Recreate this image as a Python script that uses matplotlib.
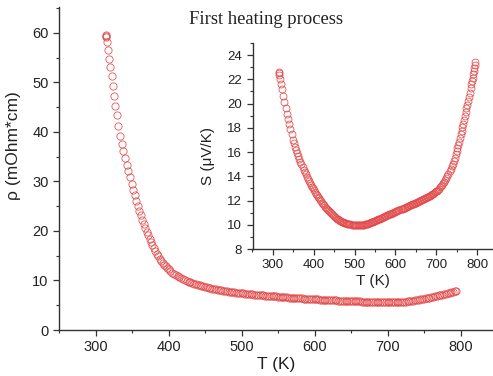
import numpy as np
import matplotlib
matplotlib.use("Agg")
import matplotlib.pyplot as plt
from matplotlib.ticker import MultipleLocator

# resistivity, first heating
T_rho = [314.0, 314.3, 314.6, 315.5, 316.7, 318.5, 320.0, 322.0, 323.5, 325.3,
         326.8, 329.0, 331.2, 333.5, 336.0, 338.0, 340.5, 342.7, 345.0, 347.3,
         350, 352, 354, 356, 358, 360, 362, 364, 366, 368,
         370, 372, 374, 376, 378, 380, 382, 384, 386, 388,
         390, 392, 394, 396, 398, 400, 402.5, 405, 407.5, 410,
         412.5, 415, 417.5, 420, 422.5, 425, 427.5, 430, 432.5, 435,
         437.5, 440, 442.5, 445, 447.5, 450, 452.5, 455, 457.5, 460,
         462.5, 465, 467.5, 470, 472.5, 475, 477.5, 480, 482.5, 485,
         487.5, 490, 492.5, 495, 497.5, 500, 502.5, 505, 507.5, 510,
         512.5, 515, 517.5, 520, 522.5, 525, 527.5, 530, 532.5, 535,
         537.5, 540, 542.5, 545, 547.5, 550, 552.5, 555, 557.5, 560,
         562.5, 565, 567.5, 570, 572.5, 575, 577.5, 580, 582.5, 585,
         587.5, 590, 592.5, 595, 597.5, 600, 602.5, 605, 607.5, 610,
         612.5, 615, 617.5, 620, 622.5, 625, 627.5, 630, 632.5, 635,
         637.5, 640, 642.5, 645, 647.5, 650, 652.5, 655, 657.5, 660,
         662.5, 665, 667.5, 670, 672.5, 675, 677.5, 680, 682.5, 685,
         687.5, 690, 692.5, 695, 697.5, 700, 702.5, 705, 707.5, 710,
         712.5, 715, 717.5, 720, 722.5, 725, 727.5, 730, 732.5, 735,
         737.5, 740, 742.5, 745, 747.5, 750, 752.5, 755, 757.5, 760,
         762.5, 765, 767.5, 770, 772.5, 775, 777.5, 780, 782.5, 785,
         787.5, 790, 792, 794]
rho = [59.6, 59.4, 59.1, 58.1, 56.6, 54.7, 53.0, 51.2, 49.3, 47.3,
       45.3, 43.3, 41.1, 39.2, 37.5, 36.1, 34.7, 33.3, 32.0, 30.8,
       29.4, 28.3, 27.2, 26.1, 25.1, 24.1, 23.2, 22.3, 21.4, 20.6,
       19.8, 19.1, 18.4, 17.7, 17.1, 16.5, 15.9, 15.4, 14.9, 14.4,
       14.0, 13.6, 13.2, 12.85, 12.55, 12.25, 11.95, 11.6, 11.35, 11.1,
       10.85, 10.62, 10.42, 10.25, 10.08, 9.92, 9.78, 9.62, 9.5, 9.37,
       9.25, 9.12, 9.0, 8.9, 8.8, 8.7, 8.6, 8.52, 8.44, 8.36,
       8.28, 8.2, 8.13, 8.06, 7.99, 7.92, 7.86, 7.8, 7.75, 7.7,
       7.65, 7.6, 7.55, 7.5, 7.46, 7.42, 7.38, 7.35, 7.31, 7.28,
       7.24, 7.2, 7.16, 7.12, 7.08, 7.05, 7.01, 6.98, 6.95, 6.92,
       6.89, 6.86, 6.83, 6.8, 6.77, 6.74, 6.71, 6.68, 6.65, 6.62,
       6.59, 6.56, 6.53, 6.5, 6.47, 6.45, 6.42, 6.4, 6.37, 6.35,
       6.32, 6.3, 6.27, 6.25, 6.22, 6.2, 6.18, 6.16, 6.14, 6.12,
       6.1, 6.08, 6.06, 6.04, 6.02, 6.0, 5.98, 5.96, 5.94, 5.93,
       5.91, 5.9, 5.88, 5.87, 5.85, 5.84, 5.82, 5.81, 5.79, 5.78,
       5.76, 5.75, 5.73, 5.72, 5.71, 5.7, 5.69, 5.68, 5.67, 5.66,
       5.65, 5.64, 5.63, 5.62, 5.61, 5.6, 5.6, 5.6, 5.6, 5.6,
       5.61, 5.62, 5.64, 5.66, 5.69, 5.72, 5.76, 5.8, 5.85, 5.9,
       5.96, 6.02, 6.09, 6.16, 6.23, 6.3, 6.38, 6.46, 6.54, 6.62,
       6.71, 6.8, 6.89, 6.98, 7.07, 7.16, 7.25, 7.34, 7.43, 7.52,
       7.62, 7.72, 7.82, 7.95]

# Seebeck coefficient (inset)
T_S = [314, 315, 316, 318, 320, 322, 325, 328, 331, 334,
       337, 340, 343, 346, 350, 352.5, 355, 357.5, 360, 362.5,
       365, 367.5, 370, 372.5, 375, 377.5, 380, 382.5, 385, 387.5,
       390, 392.5, 395, 397.5, 400, 402.5, 405, 407.5, 410, 412.5,
       415, 417.5, 420, 422.5, 425, 427.5, 430, 432.5, 435, 437.5,
       440, 442.5, 445, 447.5, 450, 452.5, 455, 457.5, 460, 462.5,
       465, 467.5, 470, 472.5, 475, 477.5, 480, 482.5, 485, 487.5,
       490, 492.5, 495, 497.5, 500, 502.5, 505, 507.5, 510, 512.5,
       515, 517.5, 520, 522.5, 525, 527.5, 530, 532.5, 535, 537.5,
       540, 542.5, 545, 547.5, 550, 552.5, 555, 557.5, 560, 562.5,
       565, 567.5, 570, 572.5, 575, 577.5, 580, 582.5, 585, 587.5,
       590, 592.5, 595, 597.5, 600, 602.5, 605, 607.5, 610, 612.5,
       615, 617.5, 620, 622.5, 625, 627.5, 630, 632.5, 635, 637.5,
       640, 642.5, 645, 647.5, 650, 652.5, 655, 657.5, 660, 662.5,
       665, 667.5, 670, 672.5, 675, 677.5, 680, 682.5, 685, 687.5,
       690, 692.5, 695, 697.5, 700, 702.5, 705, 707.5, 710, 712.5,
       715, 717.5, 720, 722.5, 725, 727.5, 730, 732.5, 735, 737.5,
       740, 742.5, 745, 747.5, 750, 752, 754, 756, 758, 760,
       762, 764, 766, 768, 770, 772, 774, 776, 778, 780,
       782, 784, 786, 787.5, 789, 790.5, 792, 793.5, 795, 796]
S = [22.6, 22.5, 22.35, 22.0, 21.6, 21.2, 20.6, 20.1, 19.6, 19.1,
     18.7, 18.3, 17.9, 17.5, 17.0, 16.72, 16.44, 16.16, 15.9, 15.65,
     15.43, 15.2, 15.0, 14.78, 14.56, 14.35, 14.15, 13.96, 13.78, 13.6,
     13.45, 13.3, 13.15, 13.02, 12.88, 12.74, 12.58, 12.43, 12.3, 12.17,
     12.05, 11.93, 11.8, 11.69, 11.59, 11.49, 11.4, 11.3, 11.21, 11.12,
     11.03, 10.95, 10.87, 10.79, 10.7, 10.63, 10.56, 10.5, 10.45, 10.4,
     10.35, 10.3, 10.25, 10.21, 10.17, 10.14, 10.12, 10.09, 10.07, 10.05,
     10.03, 10.01, 10.0, 9.99, 9.98, 9.97, 9.97, 9.97, 9.97, 9.97,
     9.98, 9.99, 10.0, 10.02, 10.04, 10.06, 10.08, 10.1, 10.13, 10.16,
     10.2, 10.23, 10.26, 10.29, 10.32, 10.36, 10.4, 10.44, 10.48, 10.51,
     10.55, 10.58, 10.62, 10.66, 10.7, 10.74, 10.78, 10.81, 10.85, 10.88,
     10.92, 10.96, 11.0, 11.04, 11.08, 11.11, 11.15, 11.18, 11.22, 11.26,
     11.3, 11.34, 11.38, 11.41, 11.45, 11.48, 11.52, 11.56, 11.6, 11.64,
     11.68, 11.71, 11.75, 11.78, 11.82, 11.86, 11.9, 11.94, 11.98, 12.01,
     12.05, 12.1, 12.14, 12.18, 12.22, 12.26, 12.3, 12.35, 12.4, 12.45,
     12.5, 12.56, 12.62, 12.68, 12.75, 12.82, 12.9, 12.99, 13.08, 13.19,
     13.3, 13.42, 13.55, 13.7, 13.85, 14.02, 14.2, 14.4, 14.6, 14.82,
     15.05, 15.3, 15.55, 15.82, 16.1, 16.35, 16.6, 16.87, 17.15, 17.45,
     17.75, 18.05, 18.35, 18.65, 18.95, 19.28, 19.6, 19.92, 20.25, 20.58,
     20.9, 21.25, 21.6, 21.88, 22.15, 22.42, 22.7, 22.95, 23.2, 23.4]

RED = '#e24a4a'
W, H = 493, 376

plt.rcParams['font.family'] = ['Liberation Sans', 'DejaVu Sans']


def style_axes(ax, fs):
    for side in ('top', 'right'):
        ax.spines[side].set_visible(False)
    for side in ('left', 'bottom'):
        ax.spines[side].set_linewidth(1.0)
        ax.spines[side].set_color('#333333')
    ax.tick_params(which='major', direction='out', length=4, width=0.9,
                   labelsize=fs, colors='#333333', labelcolor='#222222')
    ax.tick_params(which='minor', direction='out', length=2, width=0.8,
                   colors='#333333')


fig = plt.figure(figsize=(W / 100, H / 100), dpi=100)

# main panel: rho(T)
ax = fig.add_axes([59 / W, 1 - 330 / H, (W - 59) / W, 323 / H])
ax.plot(T_rho, rho, 'o', mfc='none', mec=RED, mew=0.55, ms=5.2)
ax.set_xlim(250, 844.5)
ax.set_ylim(0, 65.2)
ax.xaxis.set_major_locator(MultipleLocator(100))
ax.xaxis.set_minor_locator(MultipleLocator(50))
ax.yaxis.set_major_locator(MultipleLocator(10))
ax.yaxis.set_minor_locator(MultipleLocator(5))
style_axes(ax, 10.5)
ax.set_xlabel('T (K)', fontsize=12.5, color='#222222', labelpad=2)
ax.set_ylabel('\u03c1 (mOhm*cm)', fontsize=12.5, color='#222222')
ax.yaxis.set_label_coords(-0.087, 0.57)
ax.patch.set_alpha(0)

fig.text(266 / W, 1 - 20 / H, 'First heating process', ha='center',
         va='center', fontsize=13.4, family='Liberation Serif', color='#222222')

# inset: S(T)
axi = fig.add_axes([252.5 / W, 1 - 249 / H, (W - 252.5) / W, 206 / H])
axi.plot(T_S, S, 'o', mfc='none', mec=RED, mew=0.55, ms=5.0)
axi.set_xlim(250, 839)
axi.set_ylim(8, 25.0)
axi.xaxis.set_major_locator(MultipleLocator(100))
axi.xaxis.set_minor_locator(MultipleLocator(50))
axi.yaxis.set_major_locator(MultipleLocator(2))
axi.yaxis.set_minor_locator(MultipleLocator(1))
style_axes(axi, 9.5)
axi.set_xlabel('T (K)', fontsize=11, color='#222222', labelpad=2)
axi.set_ylabel('S (\u03bcV/K)', fontsize=11, color='#222222')
axi.yaxis.set_label_coords(-0.155, 0.45)
axi.patch.set_alpha(0)

fig.savefig('out.png', dpi=100)
